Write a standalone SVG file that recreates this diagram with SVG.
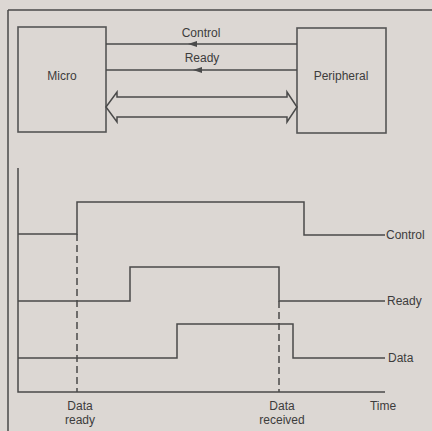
<svg xmlns="http://www.w3.org/2000/svg" width="432" height="431" viewBox="0 0 432 431">
<defs>
<style>
.ln{fill:none;stroke:#4a4a4a;stroke-width:1.5}
.box{fill:none;stroke:#555;stroke-width:1.6}
.dash{fill:none;stroke:#4a4a4a;stroke-width:1.5;stroke-dasharray:7 4}
.ah{fill:#4a4a4a}
text{font-family:"Liberation Sans",Arial,sans-serif;font-size:12px;fill:#3c3c3c}
</style>
</defs>
<rect width="432" height="431" fill="#dcd7d3"/>
<g id="frame">
<path class="ln" d="M8,10 H432 M8,10 V431"/>
</g>
<g id="micro">
<rect class="box" x="18" y="27" width="88" height="105"/>
<text x="62" y="80" text-anchor="middle">Micro</text>
</g>
<g id="peripheral">
<rect class="box" x="297" y="28" width="89" height="105"/>
<text x="341" y="80" text-anchor="middle">Peripheral</text>
</g>
<g id="connectors">
<path class="ln" d="M106,44 H297"/>
<path class="ah" d="M188,44 L197,41 L197,47 Z"/>
<path class="ln" d="M106,70 H297"/>
<path class="ah" d="M193,70 L202,67 L202,73 Z"/>
<path class="ln" d="M106,107 L117,92 V97 H287 V92 L297,107 L287,122 V117 H117 V122 Z"/>
<text x="201" y="37" text-anchor="middle">Control</text>
<text x="202" y="62" text-anchor="middle">Ready</text>
</g>
<g id="timing">
<path class="ln" d="M18,168 V392 H385"/>
<path class="ln" d="M18,234 H77 V202 H304 V235 H385"/>
<path class="ln" d="M18,301 H130 V267 H279 V301 H385"/>
<path class="ln" d="M18,358 H177 V324 H293 V358 H385"/>
<path class="dash" d="M77,234 V392"/>
<path class="dash" d="M279,301 V392"/>
<text x="386" y="239">Control</text>
<text x="387" y="305">Ready</text>
<text x="388" y="362">Data</text>
<text x="80" y="410" text-anchor="middle">Data</text>
<text x="80" y="424" text-anchor="middle">ready</text>
<text x="282" y="410" text-anchor="middle">Data</text>
<text x="282" y="424" text-anchor="middle">received</text>
<text x="383" y="410" text-anchor="middle">Time</text>
</g>
</svg>
